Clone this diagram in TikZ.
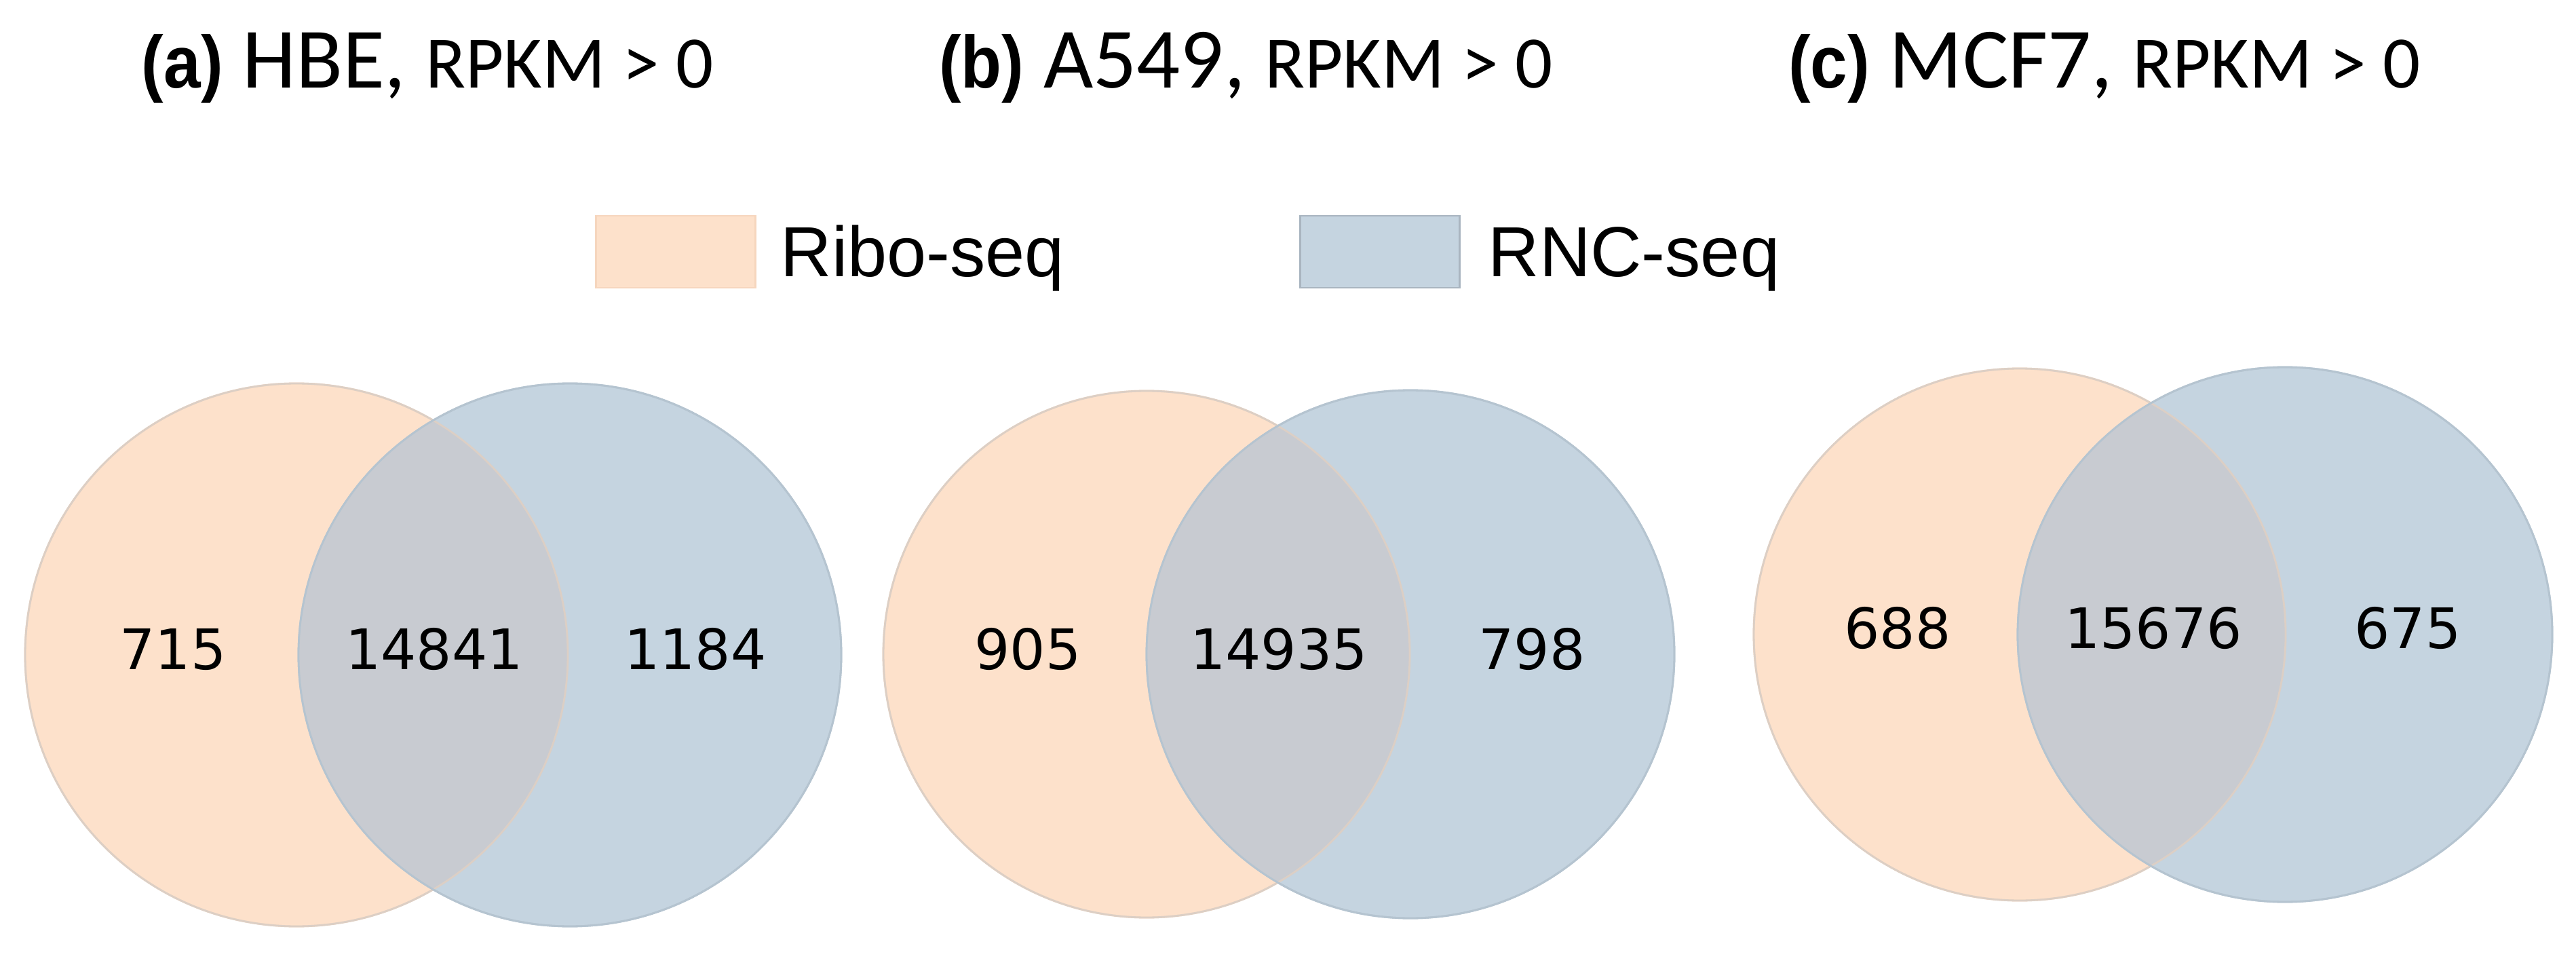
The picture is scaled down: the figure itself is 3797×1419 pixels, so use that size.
\documentclass[tikz,border=0pt]{standalone}
\usepackage{fontspec}
\setmainfont{Liberation Sans}
\newfontfamily\numfont{DejaVu Sans}
\newfontfamily\titfont{Carlito}
\definecolor{ribo}{HTML}{FDE1CB}
\definecolor{ribo edge}{HTML}{F6D6BE}
\definecolor{rnc}{HTML}{C5D4E0}
\definecolor{rnc edge}{HTML}{B5C4D0}
\definecolor{both}{HTML}{C8CBD1}
\definecolor{rnc box edge}{HTML}{A9B5C0}
\newcommand{\plab}[1]{\scalebox{0.9}[1]{\rmfamily\bfseries\fontsize{31}{36}\selectfont (#1)}}
\newcommand{\rpkm}{{\fontsize{31}{36}\selectfont RPKM > 0}}
\begin{document}
\begin{tikzpicture}[x=0.01cm,y=-0.01cm,
  ribocirc/.style={fill=ribo,draw=ribo edge,line width=0.8pt},
  rnccirc/.style={fill=rnc,draw=rnc edge,line width=0.8pt},
  count/.style={font=\numfont\fontsize{23.4}{28}\selectfont,anchor=base,inner sep=0pt},
  paneltitle/.style={anchor=base east,inner sep=0pt,font=\titfont\fontsize{36}{40}\selectfont},
  legtext/.style={anchor=base west,inner sep=0pt,font=\fontsize{29.7}{36}\selectfont},
  legbox/.style={minimum width=235*0.01cm,minimum height=106*0.01cm,inner sep=0pt}]
\useasboundingbox (0,0) rectangle (3797,1419);
\fill[white] (0,0) rectangle (3797,1419);

% titles
\node[paneltitle] (ta) at (1052,130) {\plab{a} HBE, \rpkm};
\node[paneltitle] (tb) at (2289,130) {\plab{b} A549, \rpkm};
\node[paneltitle] (tc) at (3568,130) {\plab{c} MCF7, \rpkm};

% legend
\node[legbox,fill=ribo,draw=ribo edge,line width=0.6pt] (lr) at (996,371) {};
\node[legtext] (lrt) at (1150,408) {Ribo-seq};
\node[legbox,fill=rnc,draw=rnc box edge,line width=0.8pt] (lb) at (2034,371) {};
\node[legtext] (lbt) at (2193,408) {RNC-seq};

% panel a
\fill[ribocirc] (437,965) circle (400);
\fill[rnccirc] (840,965) circle (400);
\begin{scope}
  \clip (437,965) circle (400);
  \fill[both] (840,965) circle (400);
\end{scope}
\draw[ribo edge!60!rnc edge,line width=0.8pt] (437,965) circle (400);
\draw[rnc edge,line width=0.8pt] (840,965) circle (400);
\node[count] (a1) at (255,986) {715};
\node[count] (a2) at (640,986) {14841};
\node[count] (a3) at (1025,986) {1184};

% panel b
\fill[ribocirc] (1690,964) circle (388);
\fill[rnccirc] (2079,964) circle (389);
\begin{scope}
  \clip (1690,964) circle (388);
  \fill[both] (2079,964) circle (389);
\end{scope}
\draw[ribo edge!60!rnc edge,line width=0.8pt] (1690,964) circle (388);
\draw[rnc edge,line width=0.8pt] (2079,964) circle (389);
\node[count] (b1) at (1515,986) {905};
\node[count] (b2) at (1885,986) {14935};
\node[count] (b3) at (2258,986) {798};

% panel c
\fill[ribocirc] (2977,935) circle (392);
\fill[rnccirc] (3368,935) circle (394);
\begin{scope}
  \clip (2977,935) circle (392);
  \fill[both] (3368,935) circle (394);
\end{scope}
\draw[ribo edge!60!rnc edge,line width=0.8pt] (2977,935) circle (392);
\draw[rnc edge,line width=0.8pt] (3368,935) circle (394);
\node[count] (c1) at (2797,955) {688};
\node[count] (c2) at (3174,955) {15676};
\node[count] (c3) at (3549,955) {675};
\end{tikzpicture}
\end{document}
